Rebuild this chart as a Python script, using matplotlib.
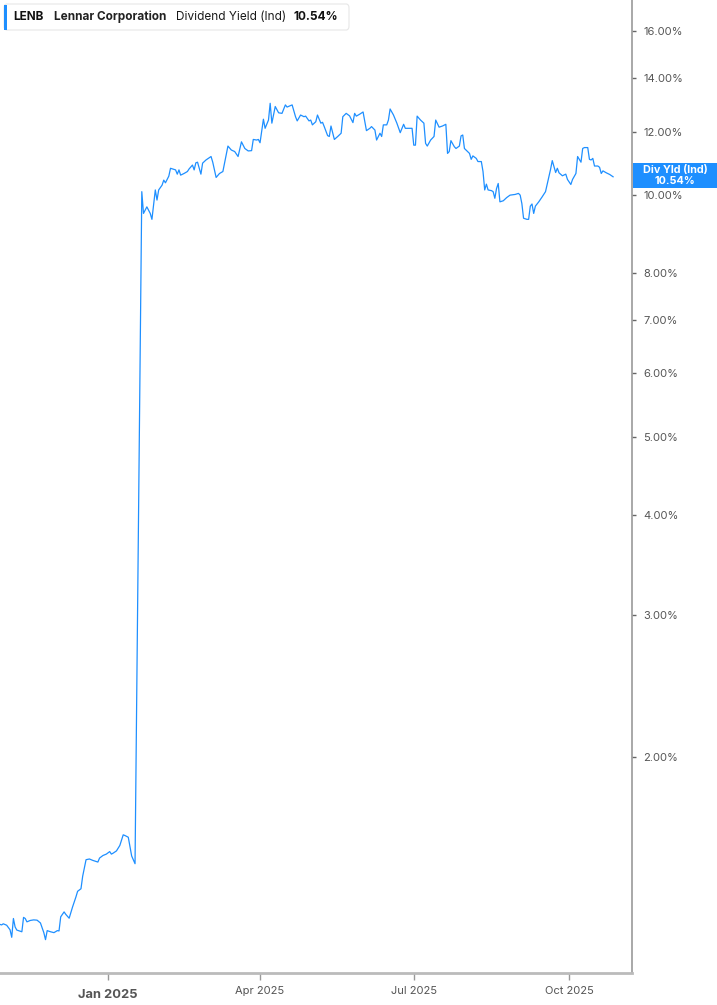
import pandas as pd
import matplotlib
matplotlib.use("Agg")
import matplotlib.pyplot as plt
import matplotlib.dates as mdates
from matplotlib.patches import FancyBboxPatch, Rectangle
from matplotlib.ticker import FixedLocator, NullLocator

plt.rcParams['font.family'] = ['Inter', 'DejaVu Sans']

# LENB dividend yield (%)
dates = [
    "2024-10-29", "2024-10-30", "2024-10-31", "2024-11-02", "2024-11-04", "2024-11-05",
    "2024-11-06", "2024-11-07", "2024-11-08", "2024-11-11", "2024-11-12", "2024-11-13",
    "2024-11-14", "2024-11-16", "2024-11-18", "2024-11-20", "2024-11-22", "2024-11-24",
    "2024-11-25", "2024-11-26", "2024-11-28", "2024-11-30", "2024-12-02", "2024-12-03",
    "2024-12-04", "2024-12-06", "2024-12-07", "2024-12-09", "2024-12-11", "2024-12-13",
    "2024-12-14", "2024-12-16", "2024-12-17", "2024-12-19", "2024-12-21", "2024-12-23",
    "2024-12-26", "2024-12-27", "2024-12-29", "2024-12-31", "2025-01-02", "2025-01-03",
    "2025-01-04", "2025-01-06", "2025-01-08", "2025-01-10", "2025-01-11", "2025-01-13",
    "2025-01-15", "2025-01-17",
    "2025-01-21", "2025-01-22", "2025-01-24", "2025-01-26", "2025-01-27", "2025-01-29",
    "2025-01-30", "2025-01-31", "2025-02-02", "2025-02-03", "2025-02-04", "2025-02-06",
    "2025-02-07", "2025-02-10", "2025-02-11", "2025-02-12", "2025-02-13", "2025-02-15",
    "2025-02-17", "2025-02-18", "2025-02-20", "2025-02-21", "2025-02-22", "2025-02-23",
    "2025-02-25", "2025-02-26", "2025-02-28", "2025-03-03", "2025-03-04", "2025-03-06",
    "2025-03-08", "2025-03-10", "2025-03-13", "2025-03-15", "2025-03-17", "2025-03-19",
    "2025-03-21", "2025-03-23", "2025-03-25", "2025-03-27", "2025-03-28", "2025-03-30",
    "2025-03-31", "2025-04-01", "2025-04-03", "2025-04-04", "2025-04-06", "2025-04-07",
    "2025-04-08", "2025-04-10", "2025-04-12", "2025-04-14", "2025-04-16", "2025-04-17",
    "2025-04-20", "2025-04-22", "2025-04-23", "2025-04-25", "2025-04-27", "2025-04-28",
    "2025-04-30", "2025-05-01", "2025-05-02", "2025-05-04", "2025-05-05", "2025-05-07",
    "2025-05-08", "2025-05-09", "2025-05-11", "2025-05-12", "2025-05-13", "2025-05-15",
    "2025-05-17", "2025-05-19", "2025-05-20", "2025-05-22", "2025-05-24", "2025-05-26",
    "2025-05-27", "2025-05-28", "2025-05-30", "2025-06-01", "2025-06-03", "2025-06-05",
    "2025-06-06", "2025-06-08", "2025-06-09", "2025-06-11", "2025-06-12", "2025-06-13",
    "2025-06-15", "2025-06-16", "2025-06-17", "2025-06-19", "2025-06-21", "2025-06-23",
    "2025-06-25", "2025-06-26", "2025-06-28", "2025-06-30", "2025-07-01", "2025-07-02",
    "2025-07-03", "2025-07-05", "2025-07-07", "2025-07-08", "2025-07-09", "2025-07-11",
    "2025-07-13", "2025-07-14", "2025-07-16", "2025-07-18", "2025-07-20", "2025-07-21",
    "2025-07-22", "2025-07-23", "2025-07-25", "2025-07-26", "2025-07-28", "2025-07-29",
    "2025-07-30", "2025-07-31", "2025-08-03", "2025-08-04", "2025-08-05", "2025-08-07",
    "2025-08-08", "2025-08-10", "2025-08-11", "2025-08-12", "2025-08-13", "2025-08-14",
    "2025-08-16", "2025-08-17", "2025-08-18", "2025-08-19", "2025-08-20", "2025-08-21",
    "2025-08-23", "2025-08-25", "2025-08-27", "2025-08-30", "2025-09-01", "2025-09-02",
    "2025-09-03", "2025-09-04", "2025-09-06", "2025-09-07", "2025-09-08", "2025-09-09",
    "2025-09-10", "2025-09-11", "2025-09-13", "2025-09-15", "2025-09-17", "2025-09-19",
    "2025-09-20", "2025-09-21", "2025-09-22", "2025-09-23", "2025-09-24", "2025-09-25",
    "2025-09-27", "2025-09-29", "2025-09-30", "2025-10-02", "2025-10-03", "2025-10-05",
    "2025-10-06", "2025-10-08", "2025-10-09", "2025-10-10", "2025-10-12", "2025-10-13",
    "2025-10-14", "2025-10-15", "2025-10-16", "2025-10-18", "2025-10-19", "2025-10-20",
    "2025-10-21", "2025-10-23", "2025-10-25", "2025-10-27",
]
div_yield = [
    1.238, 1.236, 1.240, 1.235, 1.219, 1.193,
    1.259, 1.229, 1.218, 1.212, 1.263, 1.259,
    1.247, 1.252, 1.254, 1.253, 1.243, 1.209,
    1.185, 1.216, 1.212, 1.209, 1.216, 1.215,
    1.265, 1.283, 1.274, 1.260, 1.301, 1.339,
    1.361, 1.371, 1.421, 1.490, 1.493, 1.487,
    1.480, 1.497, 1.508, 1.514, 1.525, 1.514,
    1.518, 1.528, 1.552, 1.600, 1.597, 1.589,
    1.506, 1.473,
    10.10, 9.49, 9.67, 9.49, 9.33, 10.15,
    9.86, 10.15, 10.29, 10.44, 10.36, 10.56,
    10.80, 10.75, 10.62, 10.75, 10.59, 10.64,
    10.70, 10.78, 10.90, 10.75, 10.97, 10.99,
    10.62, 10.96, 11.06, 11.17, 10.99, 10.52,
    10.64, 10.70, 11.51, 11.38, 11.33, 11.17,
    11.65, 11.43, 11.35, 11.36, 11.73, 11.71,
    11.73, 11.62, 12.43, 12.11, 12.40, 13.01,
    12.29, 12.89, 12.66, 12.64, 12.95, 12.87,
    12.95, 12.52, 12.37, 12.58, 12.52, 12.54,
    12.37, 12.40, 12.23, 12.34, 12.58, 12.29,
    12.32, 12.17, 11.86, 11.83, 12.19, 11.73,
    11.83, 11.94, 12.52, 12.64, 12.55, 12.31,
    12.64, 12.54, 12.61, 12.69, 12.03, 12.11,
    12.17, 12.05, 11.71, 11.94, 11.83, 12.23,
    12.23, 12.40, 12.80, 12.58, 12.29, 11.96,
    12.25, 12.11, 12.11, 12.11, 11.54, 11.54,
    12.54, 12.40, 12.29, 11.60, 11.51, 11.71,
    11.83, 12.40, 12.15, 12.19, 12.25, 11.27,
    11.33, 11.69, 11.49, 11.43, 11.51, 11.85,
    11.88, 11.43, 11.27, 11.08, 11.19, 11.11,
    11.01, 11.01, 10.70, 10.15, 10.32, 10.15,
    10.13, 10.10, 9.91, 10.19, 10.34, 9.81,
    9.84, 9.93, 10.00, 10.02, 10.05, 10.00,
    9.76, 9.36, 9.33, 9.33, 9.69, 9.75,
    9.49, 9.69, 9.81, 9.95, 10.10, 10.54,
    10.77, 11.04, 10.85, 10.67, 10.80, 10.66,
    10.57, 10.62, 10.46, 10.31, 10.46, 10.64,
    11.17, 10.99, 11.43, 11.46, 11.46, 11.08,
    11.06, 11.11, 10.87, 10.87, 10.83, 10.64,
    10.72, 10.66, 10.61, 10.54,
]

y_ticks = [2, 3, 4, 5, 6, 7, 8, 10, 12, 14, 16]
x_ticks = ["2025-01-01", "2025-04-01", "2025-07-01", "2025-10-01"]
x_labels = ["Jan 2025", "Apr 2025", "Jul 2025", "Oct 2025"]
ticker = "LENB"
company = "Lennar Corporation"
metric = "Dividend Yield (Ind)"
last_label = "Div Yld (Ind)"

blue = "#1E8FFF"
W, H = 717, 1005

df = pd.DataFrame({"date": pd.to_datetime(dates), "value": div_yield})

fig = plt.figure(figsize=(W / 100, H / 100), dpi=100)
ax = fig.add_axes([0, 1 - 973 / H, 632 / W, 973 / H])

ax.plot(df["date"], df["value"], color=blue, linewidth=0.9)

ax.set_yscale("log")
ax.set_ylim(1.077, 17.49)
jan1 = mdates.date2num(pd.Timestamp("2025-01-01"))
ax.set_xlim(jan1 - 63.94, jan1 + 310.2)

ax.yaxis.tick_right()
ax.yaxis.set_major_locator(FixedLocator(y_ticks))
ax.yaxis.set_minor_locator(NullLocator())
ax.set_yticklabels([f"{v:.2f}%" for v in y_ticks])
ax.tick_params(axis="y", which="major", direction="out", length=3, width=1,
               color="#666666", labelcolor="#555555", labelsize=8, pad=5)

ax.set_xticks(mdates.date2num(pd.to_datetime(x_ticks)))
ax.set_xticklabels(x_labels)
ax.xaxis.set_minor_locator(NullLocator())
ax.tick_params(axis="x", direction="out", length=5, width=1,
               color="#999999", labelcolor="#555555", labelsize=8, pad=4)
for lbl in ax.get_xticklabels():
    if lbl.get_text().startswith("Jan"):
        lbl.set_fontweight("bold")
        lbl.set_fontsize(9.3)
        lbl.set_y(-0.004)

for s in ["top", "left"]:
    ax.spines[s].set_visible(False)
ax.spines["right"].set_color("#999999")
ax.spines["right"].set_linewidth(1.2)
ax.spines["bottom"].set_color("#bbbbbb")
ax.spines["bottom"].set_linewidth(2)


def px(x, y):
    return x / W, 1 - y / H


# header box
x0, y0 = px(4, 30)
x1, y1 = px(349, 4)
fig.patches.append(FancyBboxPatch((x0, y0), x1 - x0, y1 - y0,
                                  boxstyle="round,pad=0,rounding_size=0.004",
                                  transform=fig.transFigure, facecolor="white",
                                  edgecolor="#e6e6e6", linewidth=0.8))
bx, by = px(4, 30)
fig.patches.append(Rectangle((bx, by), 3 / W, 25 / H, transform=fig.transFigure,
                             facecolor=blue, edgecolor="none"))
ty = px(0, 16.5)[1]
fs = 8.5
fig.text(px(13, 0)[0], ty, ticker, fontsize=fs, fontweight="bold", color="#111111", va="center")
fig.text(px(54, 0)[0], ty, company, fontsize=fs, fontweight="bold", color="#222222", va="center")
fig.text(px(176, 0)[0], ty, metric, fontsize=fs, color="#1a1a1a", va="center")
fig.text(px(293, 0)[0], ty, f"{div_yield[-1]:.2f}%", fontsize=fs, fontweight="bold",
         color="#111111", va="center")

# last value box on the right axis
rx, ry = px(633, 188)
fig.patches.append(Rectangle((rx, ry), (717 - 633) / W, 25 / H, transform=fig.transFigure,
                             facecolor=blue, edgecolor="none"))
fig.text(px(675, 0)[0], px(0, 170.5)[1], last_label, fontsize=7.8, fontweight="bold",
         color="white", ha="center", va="center")
fig.text(px(675, 0)[0], px(0, 181.5)[1], f"{div_yield[-1]:.2f}%", fontsize=7.8,
         fontweight="bold", color="white", ha="center", va="center")

fig.savefig("out.png", dpi=100)
